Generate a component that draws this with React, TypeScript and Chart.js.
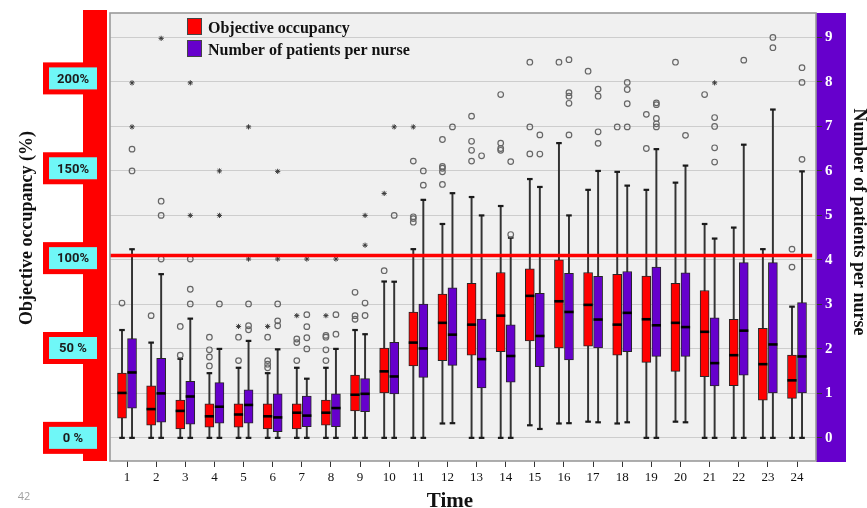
import { useEffect, useRef } from 'react';
import { Chart, registerables } from 'chart.js';

Chart.register(...registerables);

// ---------- data ----------
const TIMES = [1, 2, 3, 4, 5, 6, 7, 8, 9, 10, 11, 12, 13, 14, 15, 16, 17, 18, 19, 20, 21, 22, 23, 24];

// Objective occupancy (%)
const OCC_MIN = [0, 0, 0, 0, 0, 0, 0, 0, 0, 0, 0, 8, 0, 0, 7, 8, 9, 8, 0, 9, 0, 0, 0, 0];
const OCC_Q1 = [11, 7, 5, 6, 6, 5, 5, 7, 15, 25, 40, 43, 46, 48, 54, 50, 51, 46, 42, 37, 34, 29, 21, 22];
const OCC_MEDIAN = [25, 16, 15, 12, 13, 12, 14, 14, 24, 37, 53, 64, 63, 68, 79, 76, 74, 63, 66, 64, 59, 46, 41, 32];
const OCC_Q3 = [36, 29, 21, 19, 19, 19, 19, 21, 35, 50, 70, 80, 86, 92, 94, 99, 92, 91, 90, 86, 82, 66, 61, 46];
const OCC_MAX = [60, 53, 44, 36, 39, 36, 39, 39, 60, 87, 105, 119, 134, 129, 144, 164, 138, 148, 138, 142, 119, 117, 105, 73];
const OCC_OUTLIERS: [number, number][] = [
  [1, 75], [2, 68], [3, 46], [3, 62], [4, 40], [4, 45], [4, 49], [4, 56], [5, 43], [5, 56],
  [6, 39], [6, 41], [6, 43], [6, 56], [7, 43], [7, 53], [7, 55], [8, 43], [8, 49], [8, 56], [8, 57],
  [9, 66], [9, 68], [9, 81], [10, 93], [11, 120], [11, 122], [11, 123], [11, 154],
  [12, 141], [12, 148], [12, 150], [12, 151], [12, 166], [13, 154], [13, 160], [13, 165], [13, 179],
  [14, 160], [14, 161], [14, 164], [14, 191], [15, 158], [15, 173], [15, 209], [16, 209], [17, 204],
  [18, 173], [19, 161], [19, 180], [20, 209], [21, 191], [24, 95], [24, 105],
];
const OCC_EXTREMES: [number, number][] = [[5, 62], [6, 62], [7, 68], [8, 68], [10, 136], [11, 173]];

// Number of patients per nurse
const NURSE_MIN = [0, 0, 0, 0, 0, 0, 0, 0, 0, 0, 0, 0.33, 0, 0, 0.2, 0.33, 0.35, 0.35, 0, 0.35, 0, 0, 0, 0];
const NURSE_Q1 = [0.67, 0.35, 0.31, 0.33, 0.33, 0.14, 0.25, 0.25, 0.59, 0.99, 1.36, 1.63, 1.12, 1.25, 1.6, 1.75, 2.02, 1.94, 1.83, 1.83, 1.17, 1.41, 1.01, 1.01];
const NURSE_MEDIAN = [1.47, 1.0, 0.93, 0.7, 0.74, 0.46, 0.5, 0.67, 0.99, 1.38, 2.01, 2.32, 1.77, 1.84, 2.29, 2.83, 2.66, 2.81, 2.53, 2.49, 1.68, 2.41, 2.1, 1.83];
const NURSE_Q3 = [2.23, 1.79, 1.27, 1.24, 1.08, 0.99, 0.94, 0.99, 1.33, 2.15, 3.01, 3.37, 2.67, 2.54, 3.25, 3.7, 3.63, 3.74, 3.84, 3.71, 2.7, 3.94, 3.94, 3.04];
const NURSE_MAX = [4.24, 3.68, 2.68, 2.0, 2.18, 1.99, 1.33, 2.0, 2.33, 3.51, 5.35, 5.5, 5.0, 4.5, 5.64, 5.0, 6.0, 5.67, 6.49, 6.12, 4.48, 6.59, 7.38, 5.99];
const NURSE_OUTLIERS: [number, number][] = [
  [1, 6.0], [1, 6.49], [2, 4.02], [2, 5.0], [2, 5.32], [3, 3.01], [3, 3.34], [3, 4.02], [4, 3.01],
  [5, 2.43], [5, 2.52], [5, 3.01], [6, 2.52], [6, 2.63], [6, 3.01], [7, 2.0], [7, 2.25], [7, 2.5], [7, 2.77],
  [8, 2.33], [8, 2.77], [9, 2.75], [9, 3.03], [10, 5.0], [11, 5.68], [11, 6.0], [12, 6.99], [13, 6.34],
  [14, 4.57], [14, 6.21], [15, 6.38], [15, 6.81], [16, 6.81], [16, 7.52], [16, 7.68], [16, 7.76], [16, 8.5],
  [17, 6.62], [17, 6.88], [17, 7.68], [17, 7.84], [18, 6.99], [18, 7.51], [18, 7.83], [18, 7.99],
  [19, 6.99], [19, 7.06], [19, 7.18], [19, 7.49], [19, 7.53], [20, 6.8], [21, 6.2], [21, 6.52], [21, 7.0], [21, 7.2],
  [22, 8.49], [23, 8.77], [23, 9.0], [24, 6.26], [24, 7.99], [24, 8.32],
];
const NURSE_EXTREMES: [number, number][] = [
  [1, 6.99], [1, 7.98], [2, 8.98], [3, 5.0], [3, 7.98], [4, 5.0], [4, 6.0], [5, 4.02], [5, 6.99],
  [6, 4.02], [6, 5.99], [7, 4.02], [8, 4.02], [9, 4.33], [9, 5.0], [10, 6.99], [21, 7.98],
];

const OCC_TICKS = [0, 50, 100, 150, 200];
const OCC_TICK_LABELS = ['0 %', '50 %', '100%', '150%', '200%'];
const NURSE_TICKS = [0, 1, 2, 3, 4, 5, 6, 7, 8, 9];
const REFERENCE_OCC = 101.5; // red reference line (%)
const LEGEND_LABELS = ['Objective occupancy', 'Number of patients per nurse'];

// ---------- styling ----------
const RED = '#ff0000';
const PURPLE = '#6600cc';
const CYAN = '#6ff7f7';
const SERIF = '"Liberation Serif", "DejaVu Serif", serif';
const PATIENTS_PER_PCT = 0.0404;
const NURSE_AXIS_MIN = -0.52;
const NURSE_AXIS_MAX = 9.55;
const X_MIN = 0.416;
const X_MAX = 24.652;
const OFFSET = 0.172;

function boxDatasets(
  label: string, color: string, axis: string, offset: number,
  MIN: number[], Q1: number[], MED: number[], Q3: number[], MAX: number[],
  OUT: [number, number][], EXT: [number, number][],
): any[] {
  const xs = TIMES.map((t) => t + offset);
  return [
    {
      type: 'bar', label: label + ' range', yAxisID: axis, order: 6, grouped: false,
      data: xs.map((x, i) => ({ x, y: [MIN[i], MAX[i]] })),
      backgroundColor: '#333333', borderWidth: 0, barThickness: 1.3,
    },
    {
      type: 'bar', label, yAxisID: axis, order: 5, grouped: false,
      data: xs.map((x, i) => ({ x, y: [Q1[i], Q3[i]] })),
      backgroundColor: color, borderColor: '#262626', borderWidth: 1, borderSkipped: false, barThickness: 9,
    },
    {
      type: 'scatter', label: label + ' caps', yAxisID: axis, order: 4,
      data: xs.flatMap((x, i) => [{ x, y: MIN[i] }, { x, y: MAX[i] }]),
      pointStyle: 'line', pointRadius: 2.8, pointBorderColor: '#1a1a1a', pointBorderWidth: 2.2,
    },
    {
      type: 'scatter', label: label + ' median', yAxisID: axis, order: 3,
      data: xs.map((x, i) => ({ x, y: MED[i] })),
      pointStyle: 'line', pointRadius: 4.6, pointBorderColor: '#000000', pointBorderWidth: 2.6,
    },
    {
      type: 'scatter', label: label + ' outliers', yAxisID: axis, order: 2,
      data: OUT.map(([t, v]) => ({ x: t + offset, y: v })),
      pointStyle: 'circle', pointRadius: 2.8, pointBorderColor: '#666666',
      pointBackgroundColor: 'rgba(0,0,0,0)', pointBorderWidth: 1.2,
    },
    {
      type: 'scatter', label: label + ' extremes', yAxisID: axis, order: 2,
      data: EXT.map(([t, v]) => ({ x: t + offset, y: v })),
      pointStyle: 'star', pointRadius: 2.6, pointBorderColor: '#3a3a3a', pointBorderWidth: 1,
    },
  ];
}

const decorPlugin = {
  id: 'decor',
  beforeDraw(chart: any) {
    const { ctx, chartArea: a } = chart;
    const yL = chart.scales.yL;
    ctx.save();
    ctx.fillStyle = '#ffffff';
    ctx.fillRect(0, 0, chart.width, chart.height);
    // left red band with tick boxes
    ctx.fillStyle = RED;
    ctx.fillRect(83, 10, 24, a.bottom - 10);
    OCC_TICKS.forEach((p, i) => {
      const y = yL.getPixelForValue(p);
      ctx.fillStyle = RED;
      ctx.fillRect(43, y - 16, 64, 32);
      ctx.fillStyle = CYAN;
      ctx.fillRect(49, y - 11, 48, 22);
      ctx.fillStyle = '#1c1c1c';
      ctx.font = 'bold 13px Roboto, "DejaVu Sans", sans-serif';
      ctx.textAlign = 'center';
      ctx.textBaseline = 'middle';
      ctx.fillText(OCC_TICK_LABELS[i], 73, y + 1);
    });
    // right purple band
    ctx.fillStyle = PURPLE;
    ctx.fillRect(a.right, a.top, 30, a.bottom - a.top + 1);
    // plot background
    ctx.fillStyle = '#f0f0f0';
    ctx.fillRect(a.left, a.top, a.right - a.left, a.bottom - a.top);
    ctx.restore();
  },
  afterDraw(chart: any) {
    const { ctx, chartArea: a } = chart;
    ctx.save();
    // frame
    ctx.strokeStyle = '#9a9a9a';
    ctx.lineWidth = 1.6;
    ctx.strokeRect(a.left, a.top, a.right - a.left, a.bottom - a.top);
    // legend
    const colors = [RED, PURPLE];
    LEGEND_LABELS.forEach((lab, i) => {
      const y = 18 + i * 22;
      ctx.fillStyle = colors[i];
      ctx.fillRect(187, y, 15, 17);
      ctx.strokeStyle = '#444';
      ctx.lineWidth = 1;
      ctx.strokeRect(187.5, y + 0.5, 14, 16);
      ctx.fillStyle = '#111';
      ctx.font = `bold 16px ${SERIF}`;
      ctx.textAlign = 'left';
      ctx.textBaseline = 'alphabetic';
      ctx.fillText(lab, 208, y + 15);
    });
    // axis titles
    ctx.fillStyle = '#111';
    ctx.font = `bold 18px ${SERIF}`;
    ctx.textAlign = 'center';
    ctx.textBaseline = 'middle';
    ctx.save();
    ctx.translate(27, 228);
    ctx.rotate(-Math.PI / 2);
    ctx.fillText('Objective occupancy (%)', 0, 0);
    ctx.restore();
    ctx.save();
    ctx.translate(859, 222);
    ctx.rotate(Math.PI / 2);
    ctx.fillText('Number of patients per nurse', 0, 0);
    ctx.restore();
    ctx.font = `bold 21px ${SERIF}`;
    ctx.textBaseline = 'alphabetic';
    ctx.fillText('Time', 450, 507);
    // page number
    ctx.fillStyle = '#a0a0a0';
    ctx.font = '11px "Open Sans", "DejaVu Sans", sans-serif';
    ctx.textBaseline = 'middle';
    ctx.fillText('42', 24, 497);
    ctx.restore();
  },
};

export default function App() {
  const ref = useRef<HTMLCanvasElement>(null);
  useEffect(() => {
    if (!ref.current) return;
    const datasets = [
      {
        type: 'line', label: 'reference', yAxisID: 'yL', order: 1,
        data: [{ x: X_MIN, y: REFERENCE_OCC }, { x: 24.52, y: REFERENCE_OCC }],
        borderColor: RED, borderWidth: 3.5, pointRadius: 0,
      },
      ...boxDatasets(LEGEND_LABELS[0], RED, 'yL', -OFFSET, OCC_MIN, OCC_Q1, OCC_MEDIAN, OCC_Q3, OCC_MAX, OCC_OUTLIERS, OCC_EXTREMES),
      ...boxDatasets(LEGEND_LABELS[1], PURPLE, 'yR', OFFSET, NURSE_MIN, NURSE_Q1, NURSE_MEDIAN, NURSE_Q3, NURSE_MAX, NURSE_OUTLIERS, NURSE_EXTREMES),
    ];
    const chart = new Chart(ref.current, {
      type: 'bar',
      data: { datasets } as any,
      options: {
        animation: false,
        responsive: true,
        maintainAspectRatio: false,
        events: [],
        layout: { padding: { top: 13, left: 0, right: 0, bottom: 0 } },
        plugins: { legend: { display: false }, tooltip: { enabled: false } },
        scales: {
          x: {
            type: 'linear', min: X_MIN, max: X_MAX, offset: false,
            grid: { drawOnChartArea: false, offset: false, tickLength: 6, tickColor: '#333', lineWidth: 1 },
            border: { display: false },
            ticks: {
              autoSkip: false, maxRotation: 0, padding: 3, color: '#111',
              font: { family: SERIF, size: 13 },
              callback: (v: any) => String(v),
            },
            afterBuildTicks: (s: any) => { s.ticks = TIMES.map((v) => ({ value: v })); },
            afterFit: (s: any) => { s.height = 47; },
          },
          yL: {
            type: 'linear', position: 'left',
            min: NURSE_AXIS_MIN / PATIENTS_PER_PCT, max: NURSE_AXIS_MAX / PATIENTS_PER_PCT,
            grid: { display: false }, border: { display: false },
            ticks: { display: false },
            afterBuildTicks: (s: any) => { s.ticks = OCC_TICKS.map((v) => ({ value: v })); },
            afterFit: (s: any) => { s.width = 110; },
          },
          yR: {
            type: 'linear', position: 'right', min: NURSE_AXIS_MIN, max: NURSE_AXIS_MAX,
            grid: { color: '#cdcdcd', lineWidth: 1, tickLength: 6, tickColor: '#333' },
            border: { display: false },
            ticks: {
              color: '#ffffff', padding: 3,
              font: { family: SERIF, size: 15, weight: 'bold' },
              callback: (v: any) => String(v),
            },
            afterBuildTicks: (s: any) => { s.ticks = NURSE_TICKS.map((v) => ({ value: v })); },
            afterFit: (s: any) => { s.width = 51; },
          },
        },
      } as any,
      plugins: [decorPlugin],
    });
    return () => chart.destroy();
  }, []);
  return (
    <div style={{ position: 'absolute', left: 0, top: 0, width: 867, height: 508 }}>
      <canvas ref={ref} />
    </div>
  );
}
